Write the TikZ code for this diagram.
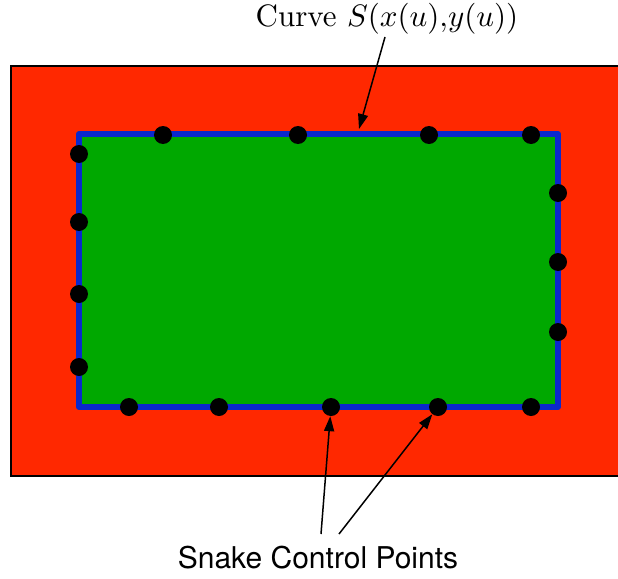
\documentclass[tikz,border=0pt]{standalone}
\usepackage{fontspec}
\newfontfamily\helv{TeX Gyre Heros}
\usetikzlibrary{arrows.meta}
\definecolor{bgred}{RGB}{255,40,0}
\definecolor{ingreen}{RGB}{0,168,0}
\definecolor{snakeblue}{RGB}{10,40,205}
\tikzset{
  cp/.style={circle,fill=black,inner sep=0pt,minimum size=18pt},
  pointer/.style={line width=1.5pt,-{Triangle[length=15pt,width=10pt]}},
}
\begin{document}
\begin{tikzpicture}[x=1pt,y=-1pt]
\useasboundingbox (0,0) rectangle (618,578);
\fill[white] (0,0) rectangle (618,578);
\filldraw[fill=bgred,draw=black,line width=2pt] (11,66) rectangle (630,476);
\filldraw[fill=ingreen,draw=snakeblue,line width=6pt,line join=round] (79,134) rectangle (558,407);
% control points
\node[cp] (t1) at (163,135) {};
\node[cp] (t2) at (298,135) {};
\node[cp] (t3) at (429,135) {};
\node[cp] (t4) at (531,135) {};
\node[cp] (l1) at (79,154) {};
\node[cp] (l2) at (79,222) {};
\node[cp] (l3) at (79,294) {};
\node[cp] (l4) at (79,367) {};
\node[cp] (r1) at (558,193) {};
\node[cp] (r2) at (558,262) {};
\node[cp] (r3) at (558,332) {};
\node[cp] (b1) at (129,407) {};
\node[cp] (b2) at (219,407) {};
\node[cp] (b3) at (331,407) {};
\node[cp] (b4) at (438,407) {};
\node[cp] (b5) at (531,407) {};
% labels
\node[anchor=base,inner sep=0pt,scale=3.1] (curve) at (387,27) {Curve $S(x(u){,}y(u))$};
\node[anchor=base,inner sep=0pt,font=\helv\fontsize{30}{34}\selectfont] (snake) at (318,568) {Snake Control Points};
\coordinate (cs) at (385,37);
\coordinate (ce) at (359,129);
\coordinate (s1) at (321,534);
\coordinate (s2) at (339,534);
\draw[pointer] (cs) -- (ce);
\draw[pointer] (s1) -- (b3);
\draw[pointer] (s2) -- (b4);
\end{tikzpicture}
\end{document}
